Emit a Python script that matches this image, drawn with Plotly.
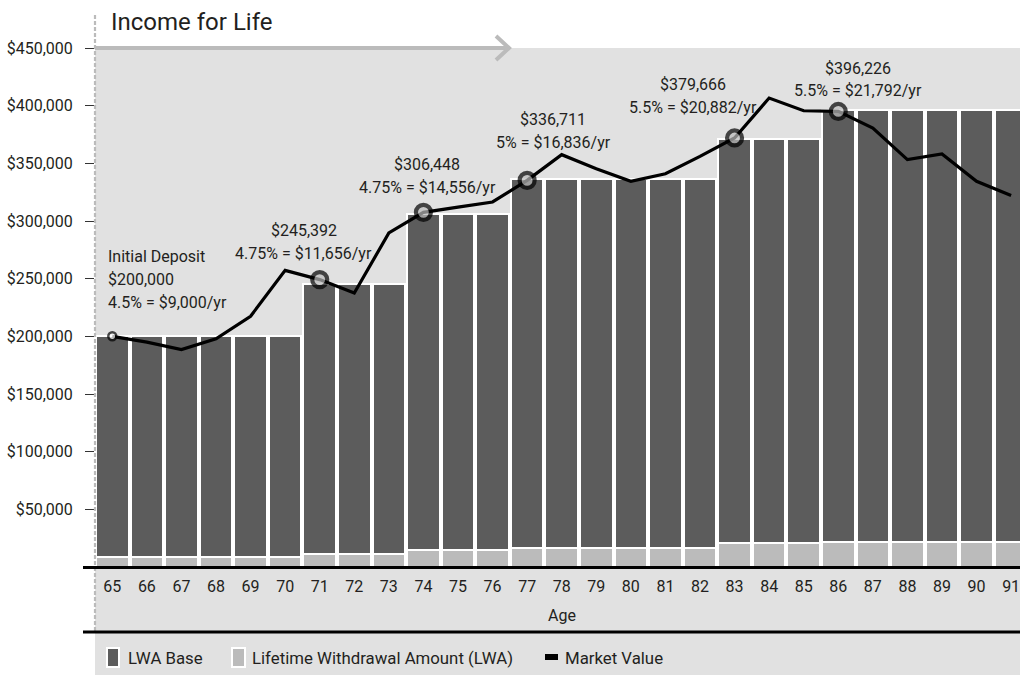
import plotly.graph_objects as go

# ---------------- data ----------------
ages = list(range(65, 92))
lwa_base = [200000] * 6 + [245392] * 3 + [306448] * 3 + [336711] * 6 + [371000] * 3 + [396226] * 6
lwa = [9000] * 6 + [11656] * 3 + [14556] * 3 + [16836] * 6 + [20882] * 3 + [21792] * 6
market_value = [200000, 195000, 188500, 197800, 217400, 257200, 249200, 237600, 289600,
                307500, 312000, 316500, 335200, 357500, 345400, 334400, 341000, 356000,
                372000, 406600, 395600, 395000, 380600, 353200, 358100, 334400, 322200]
milestone_labels = [
    ["Initial Deposit", "$200,000", "4.5% = $9,000/yr"],
    ["$245,392", "4.75% = $11,656/yr"],
    ["$306,448", "4.75% = $14,556/yr"],
    ["$336,711", "5% = $16,836/yr"],
    ["$379,666", "5.5% = $20,882/yr"],
    ["$396,226", "5.5% = $21,792/yr"],
]
y_tickvals = [50000, 100000, 150000, 200000, 250000, 300000, 350000, 400000, 450000]
y_ticktext = ["$50,000", "$100,000", "$150,000", "$200,000", "$250,000",
              "$300,000", "$350,000", "$400,000", "$450,000"]
title_text = "Income for Life"
x_title = "Age"
legend_names = ["LWA Base", "Lifetime Withdrawal Amount (LWA)", "Market Value"]

# ---------------- style / layout ----------------
W, H = 1020, 675
ML, MR, MT, MB = 95, 0, 48, 108
PW, PH = W - ML - MR, H - MT - MB
PITCH = 34.57

def px(x):
    return (x - ML) / PW

def py(y):
    return (H - MB - y) / PH

FONT = "Roboto, Liberation Sans, Arial, sans-serif"
TXT = "#231f20"
DARK = "#5c5c5c"
LIGHT = "#bbbbbb"
BG = "#e1e1e1"
FS = 16

milestones = [i for i in range(len(ages)) if i == 0 or lwa_base[i] != lwa_base[i - 1]]

fig = go.Figure()
fig.add_trace(go.Bar(x=ages, y=lwa_base, name=legend_names[0], width=0.94,
                     marker=dict(color=DARK, line=dict(color="white", width=2)),
                     showlegend=False))
fig.add_trace(go.Bar(x=ages, y=lwa, name=legend_names[1], width=0.94,
                     marker=dict(color=LIGHT, line=dict(color="white", width=2)),
                     showlegend=False))
fig.add_trace(go.Scatter(x=ages, y=market_value, mode="lines", name=legend_names[2],
                         line=dict(color="black", width=3.2), showlegend=False))
fig.add_trace(go.Scatter(
    x=[ages[i] for i in milestones], y=[market_value[i] for i in milestones],
    mode="markers", showlegend=False,
    marker=dict(size=[8] + [15] * (len(milestones) - 1),
                color=["white"] + [LIGHT] * (len(milestones) - 1),
                line=dict(color="black", width=[2.5] + [4.2] * (len(milestones) - 1)))))

# annotation positions (pixels): x, anchor, y of the block centre
label_pos = [(106, "left", 279), (303.5, "center", 241.5), (427, "center", 175.5),
             (553, "center", 130.5), (693, "center", 96), (858, "center", 79.5)]
LINE_H = 23
annotations = []
for (xp, anc, yc), lines in zip(label_pos, milestone_labels):
    n = len(lines)
    for k, txt in enumerate(lines):
        yl = yc + (k - (n - 1) / 2) * LINE_H
        annotations.append(dict(x=px(xp), y=py(yl), xref="paper", yref="paper", text=txt,
                                showarrow=False, xanchor=anc, yanchor="middle", align=anc,
                                font=dict(family=FONT, size=FS, color=TXT)))
annotations.append(dict(x=px(109), y=py(22), xref="paper", yref="paper", text=title_text,
                        showarrow=False, xanchor="left", yanchor="middle",
                        font=dict(family=FONT, size=24, color=TXT)))
annotations.append(dict(x=px(562), y=py(615), xref="paper", yref="paper", text=x_title,
                        showarrow=False, xanchor="center", yanchor="middle",
                        font=dict(family=FONT, size=FS, color=TXT)))
# legend texts
for xp, txt in [(126, legend_names[0]), (250, legend_names[1]), (563, legend_names[2])]:
    annotations.append(dict(x=px(xp), y=py(658), xref="paper", yref="paper", text=txt,
                            showarrow=False, xanchor="left", yanchor="middle",
                            font=dict(family=FONT, size=16.8, color=TXT)))

shapes = [
    # gray band under the plot (axis + legend area)
    dict(type="rect", xref="paper", yref="paper", x0=px(95), x1=px(1020), y0=py(675), y1=py(567),
         fillcolor=BG, line=dict(width=0), layer="below"),
    # dashed vertical line
    dict(type="line", xref="paper", yref="paper", x0=px(95), x1=px(95), y0=py(15), y1=py(632),
         line=dict(color=LIGHT, width=2.2, dash="4px,2px")),
    # black rules
    dict(type="line", xref="paper", yref="paper", x0=px(83), x1=px(1020), y0=py(567.5), y1=py(567.5),
         line=dict(color="black", width=3)),
    dict(type="line", xref="paper", yref="paper", x0=px(83), x1=px(1020), y0=py(632), y1=py(632),
         line=dict(color="black", width=3)),
    # arrow
    dict(type="line", xref="paper", yref="paper", x0=px(95), x1=px(507), y0=py(48), y1=py(48),
         line=dict(color=LIGHT, width=4)),
    dict(type="path", xref="paper", yref="paper",
         path=f"M{px(496)},{py(36)} L{px(509)},{py(48)} L{px(496)},{py(60)}",
         line=dict(color=LIGHT, width=4)),
    # legend icons
    dict(type="rect", xref="paper", yref="paper", x0=px(107), x1=px(119), y0=py(667), y1=py(648),
         fillcolor=DARK, line=dict(color="white", width=2)),
    dict(type="rect", xref="paper", yref="paper", x0=px(232), x1=px(245), y0=py(667), y1=py(648),
         fillcolor=LIGHT, line=dict(color="white", width=2)),
    dict(type="line", xref="paper", yref="paper", x0=px(545), x1=px(558), y0=py(657), y1=py(657),
         line=dict(color="black", width=6)),
]

fig.update_layout(
    width=W, height=H, margin=dict(l=ML, r=MR, t=MT, b=MB),
    paper_bgcolor="white", plot_bgcolor=BG, barmode="overlay", bargap=0,
    font=dict(family=FONT, size=FS, color=TXT),
    showlegend=False, annotations=annotations, shapes=shapes,
    xaxis=dict(range=[64.5, 64.5 + PW / PITCH], tickmode="array", tickvals=ages,
               ticktext=[str(a) for a in ages], ticks="", showgrid=False, zeroline=False,
               showline=False, ticklabelstandoff=8, ticklabeloverflow="allow",
               tickfont=dict(family=FONT, size=FS, color=TXT)),
    yaxis=dict(range=[0, 450000], tickmode="array", tickvals=y_tickvals, ticktext=y_ticktext,
               ticks="outside", ticklen=9, tickwidth=1, tickcolor="#333", showgrid=False,
               zeroline=False, showline=False, ticklabelstandoff=9,
               tickfont=dict(family=FONT, size=FS, color=TXT)),
)

fig.write_html("out.html", config={"displayModeBar": False},
               post_script="document.body.style.margin='0';document.body.style.overflow='hidden';")
